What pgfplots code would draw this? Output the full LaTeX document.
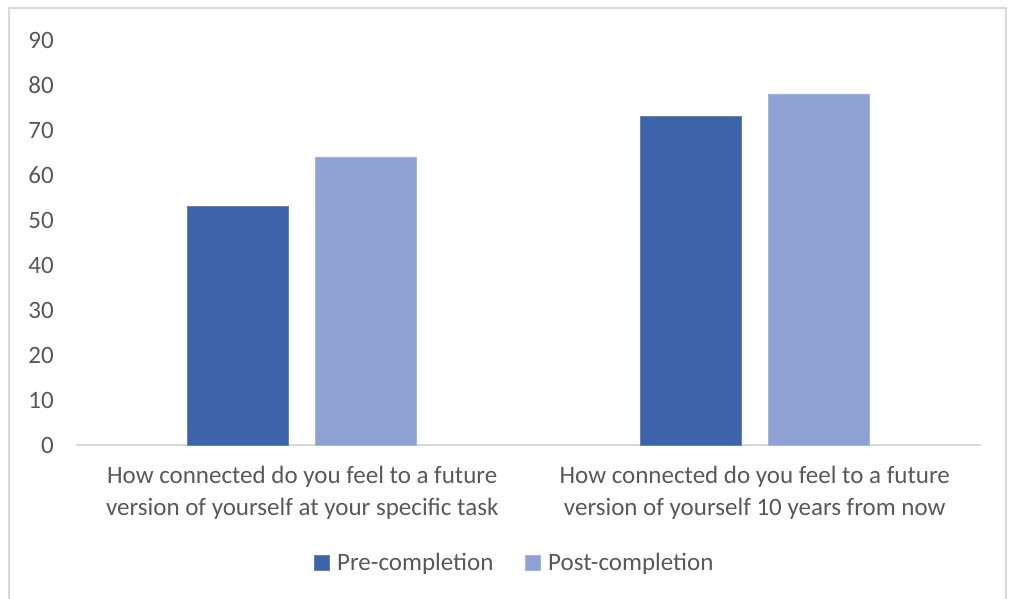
\documentclass[border=0pt]{standalone}
\usepackage{pgfplots}
\pgfplotsset{compat=1.18}
\usepackage{fontspec}
\setmainfont{Carlito}

\definecolor{txtgray}{HTML}{595959}
\definecolor{linegray}{HTML}{D9D9D9}
\definecolor{preblue}{HTML}{3D64AB}
\definecolor{postblue}{HTML}{8FA2D4}

\newcommand{\chartfont}{\fontsize{25bp}{32bp}\selectfont}

\begin{document}
\begin{tikzpicture}[x=1bp,y=1bp]
  \useasboundingbox (0,0) rectangle (1010,599);
  % chart frame
  \draw[linegray, line width=1.5bp] (9,-10) rectangle (1006,591);
  \begin{axis}[
    at={(76bp,154bp)}, anchor=south west,
    scale only axis,
    width=905bp, height=405bp,
    ybar,
    bar width=101bp,
    xmin=-0.5, xmax=1.5,
    ymin=0, ymax=90,
    ytick={0,10,...,90},
    xtick={0,1},
    xticklabels={How connected do you feel to a future\\version of yourself at your specific task,
                 How connected do you feel to a future\\version of yourself 10 years from now},
    axis x line*=bottom,
    axis y line*=left,
    x axis line style={linegray, line width=1.5bp, -},
    y axis line style={draw=none},
    major tick length=0pt,
    tick style={draw=none},
    /pgf/number format/assume math mode=true,
    ticklabel style={font=\chartfont, text=txtgray},
    yticklabel style={anchor=east, inner sep=0pt, xshift=-22bp},
    xticklabel style={align=center, anchor=north, inner sep=0pt, yshift=-21bp},
    legend style={at={(0.485,-0.291)}, anchor=center, draw=none, fill=none,
                  font=\chartfont, text=txtgray, legend columns=2,
                  /tikz/every even column/.append style={column sep=30bp}},
    legend image code/.code={\fill[#1] (0bp,-7.5bp) rectangle (15bp,7.5bp);
                             \path (20bp,0bp);},
    clip=false,
  ]
    \addplot[fill=preblue, draw=preblue!80!white, line width=0.75bp, bar shift=-64bp]
      coordinates {(0,53) (1,73)};
    \addplot[fill=postblue, draw=postblue!80!white, line width=0.75bp, bar shift=64bp]
      coordinates {(0,64) (1,78)};
    \legend{Pre-completion, Post-completion}
  \end{axis}
\end{tikzpicture}
\end{document}
